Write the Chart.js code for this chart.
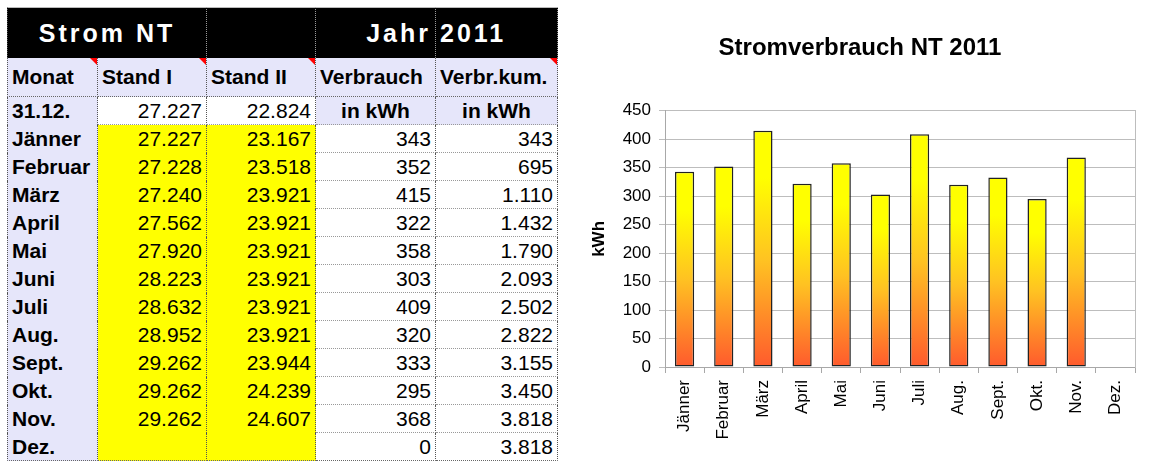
<!DOCTYPE html>
<html lang="de">
<head>
<meta charset="utf-8">
<title>Strom NT 2011</title>
<script src="https://cdn.jsdelivr.net/npm/chart.js@4.4.0/dist/chart.umd.min.js"></script>
<style>
  html, body { margin: 0; padding: 0; background: #fff; }
  body { width: 1150px; height: 463px; position: relative; overflow: hidden;
         font-family: "Liberation Sans", Arial, sans-serif; }
  #tabelle { position: absolute; left: 7px; top: 7px; display: grid;
             grid-template-columns: 91px 109px 109px 120px 122px;
             grid-template-rows: 51px 39px repeat(13, 28px); }
  .z { box-sizing: border-box; position: relative; display: flex; align-items: center;
       white-space: nowrap; overflow: hidden; font-size: 21px; color: #000;
       padding: 0 4px; border-right: 1px dotted #555; }
  .kopf { background: #000; color: #fff; font-weight: bold; font-size: 25px; letter-spacing: 3px;
          border-top: 1px solid #bbb; border-right-color: #999; }
  .lila { background: #e6e6fa; font-weight: bold; }
  .gelb { background: #ffff00; justify-content: flex-end; }
  .weiss { background: #fff; justify-content: flex-end; }
  .links { border-left: 1px dotted #555; }
  .mitte { justify-content: center; }
  .rechts { justify-content: flex-end; }
  .unten { border-bottom: 1px dotted #666; }
  .hell { border-bottom: 1px dotted #999; }
  .kommentar::after { content: ""; position: absolute; top: 0; right: 0;
                      border-top: 7px solid #ff0000; border-left: 7px solid transparent; }
  #diagramm { position: absolute; left: 570px; top: 0; width: 580px; height: 463px; }
</style>
</head>
<body>
<div id="tabelle"></div>
<div id="diagramm"><canvas id="stromChart"></canvas></div>
<script>
// Daten Strom NT 2011
const monate = ['Jänner', 'Februar', 'März', 'April', 'Mai', 'Juni', 'Juli', 'Aug.', 'Sept.', 'Okt.', 'Nov.', 'Dez.'];
const standI = [27227, 27228, 27240, 27562, 27920, 28223, 28632, 28952, 29262, 29262, 29262, null];
const standII = [23167, 23518, 23921, 23921, 23921, 23921, 23921, 23921, 23944, 24239, 24607, null];
const verbrauch = [343, 352, 415, 322, 358, 303, 409, 320, 333, 295, 368, 0];
const verbrauchKum = [343, 695, 1110, 1432, 1790, 2093, 2502, 2822, 3155, 3450, 3818, 3818];
const standVorjahr = [27227, 22824]; // Stand am 31.12.
const spalten = ['Monat', 'Stand I', 'Stand II', 'Verbrauch', 'Verbr.kum.'];

function tausend(n) {
    if (n === null || n === undefined) return '';
    return String(n).replace(/\B(?=(\d{3})+(?!\d))/g, '.');
}

// Tabelle aufbauen
const tabelle = document.getElementById('tabelle');
function zelle(text, klassen, spanne) {
    const d = document.createElement('div');
    d.className = 'z ' + klassen;
    d.textContent = text;
    if (spanne) d.style.gridColumn = 'span ' + spanne;
    tabelle.appendChild(d);
}

zelle('Strom NT', 'kopf links mitte', 2);
zelle('', 'kopf');
zelle('Jahr', 'kopf rechts');
zelle('2011', 'kopf');

spalten.forEach(function (s, i) {
    let k = 'lila unten' + (i === 0 ? ' links' : '');
    if (i !== 3) k += ' kommentar';
    zelle(s, k);
});

zelle('31.12.', 'lila links');
zelle(tausend(standVorjahr[0]), 'weiss hell');
zelle(tausend(standVorjahr[1]), 'weiss hell');
zelle('in kWh', 'lila mitte hell');
zelle('in kWh', 'lila mitte hell');

monate.forEach(function (m, i) {
    const letzte = i === monate.length - 1 ? ' unten' : '';
    zelle(m, 'lila links' + letzte);
    zelle(tausend(standI[i]), 'gelb' + letzte);
    zelle(tausend(standII[i]), 'gelb' + letzte);
    zelle(tausend(verbrauch[i]), 'weiss ' + (letzte ? 'unten' : 'hell'));
    zelle(tausend(verbrauchKum[i]), 'weiss ' + (letzte ? 'unten' : 'hell'));
});

// Farbverlauf pro Balken (gelb oben, orange unten)
function balkenVerlauf(context) {
    const chart = context.chart;
    const y = chart.scales.y;
    if (context.type !== 'data' || !chart.chartArea || !y) return '#ffff00';
    const oben = y.getPixelForValue(context.raw);
    const basis = y.getPixelForValue(0);
    if (!isFinite(oben) || !isFinite(basis) || basis - oben < 1) return '#ffff00';
    const g = chart.ctx.createLinearGradient(0, oben, 0, basis);
    g.addColorStop(0, '#ffff00');
    g.addColorStop(0.2, '#ffff00');
    g.addColorStop(0.55, '#ffc222');
    g.addColorStop(1, '#ff5a2d');
    return g;
}

Chart.defaults.font.family = '"Liberation Sans", Arial, sans-serif';
Chart.defaults.color = '#000';

const ctx = document.getElementById('stromChart');
new Chart(ctx, {
    type: 'bar',
    data: {
        labels: monate,
        datasets: [{
            label: 'Verbrauch',
            data: verbrauch,
            backgroundColor: balkenVerlauf,
            borderColor: '#222',
            borderWidth: function (c) { return c.raw ? 1.5 : 0; },
            borderSkipped: false,
            categoryPercentage: 1,
            barPercentage: 0.49,
        }],
    },
    options: {
        responsive: true,
        maintainAspectRatio: false,
        animation: false,
        layout: { padding: 0 },
        plugins: {
            legend: { display: false },
            tooltip: { enabled: false },
            title: {
                display: true,
                text: 'Stromverbrauch NT 2011',
                font: { size: 24, weight: 'bold' },
                padding: { top: 34, bottom: 48 },
            },
        },
        scales: {
            x: {
                grid: { drawOnChartArea: false, drawTicks: true, tickLength: 6, color: '#a8a8a8' },
                border: { color: '#a8a8a8' },
                ticks: { font: { size: 17 }, minRotation: 90, maxRotation: 90, autoSkip: false, padding: 7 },
                afterFit: function (s) { s.height = 96; },
            },
            y: {
                min: 0,
                max: 450,
                ticks: { stepSize: 50, font: { size: 17 }, padding: 8 },
                grid: { color: '#bdbdbd', tickLength: 6 },
                border: { color: '#a8a8a8' },
                title: { display: true, text: 'kWh', font: { size: 17, weight: 'bold' }, padding: { top: 19, bottom: 0 } },
                afterFit: function (s) { s.width = 95; },
            },
            y2: {
                position: 'right',
                min: 0,
                max: 450,
                ticks: { display: false },
                grid: { drawOnChartArea: false, drawTicks: false },
                border: { color: '#bdbdbd' },
                afterFit: function (s) { s.width = 15; },
            },
        },
    },
});
</script>
</body>
</html>
